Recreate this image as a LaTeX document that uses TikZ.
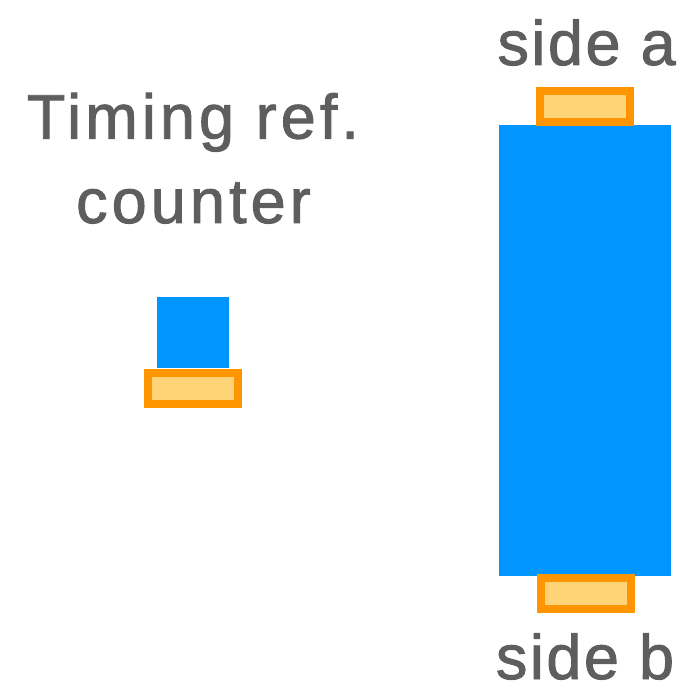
\documentclass[tikz,border=0pt]{standalone}
\usepackage{fontspec}
\setmainfont{Liberation Sans}[LetterSpace=4,FakeBold=1.5]
\newfontfamily\widelbl{Liberation Sans}[LetterSpace=6.5,FakeBold=1.5]
\definecolor{bluefill}{RGB}{0,149,255}
\definecolor{orangeline}{RGB}{255,149,0}
\definecolor{orangefill}{RGB}{255,212,121}
\definecolor{textgray}{RGB}{94,94,94}
\begin{document}
\begin{tikzpicture}[x=1pt,y=-1pt,
  bluebox/.style={fill=bluefill,draw=none,inner sep=0pt,outer sep=0pt},
  padbox/.style={fill=orangefill,draw=orangeline,line width=8pt,inner sep=0pt,outer sep=0pt,minimum width=90pt,minimum height=31pt},
  lbl/.style={text=textgray,inner sep=0pt,anchor=base,font=\fontsize{63}{70}\selectfont},
  widel/.style={lbl,font=\widelbl\fontsize{63}{70}\selectfont}]
\useasboundingbox (0,0) rectangle (677,684);
% big blue block and its pads
\node[bluebox,minimum width=172pt,minimum height=451pt] (big) at (585,350.5) {};
\node[padbox] (padA) at (585.3,107) {};
\node[padbox] (padB) at (586,593.5) {};
% small counter block
\node[bluebox,minimum width=72pt,minimum height=71pt] (small) at (193,332.5) {};
\node[padbox] (padC) at (192.5,388) {};
% labels
\node[widel] (t1) at (193,138.6) {Timing ref.};
\node[widel] (t2) at (193.5,223) {counter};
\node[lbl] (sa) at (586.6,65) {side a};
\node[lbl] (sb) at (585,679) {side b};
\end{tikzpicture}
\end{document}
